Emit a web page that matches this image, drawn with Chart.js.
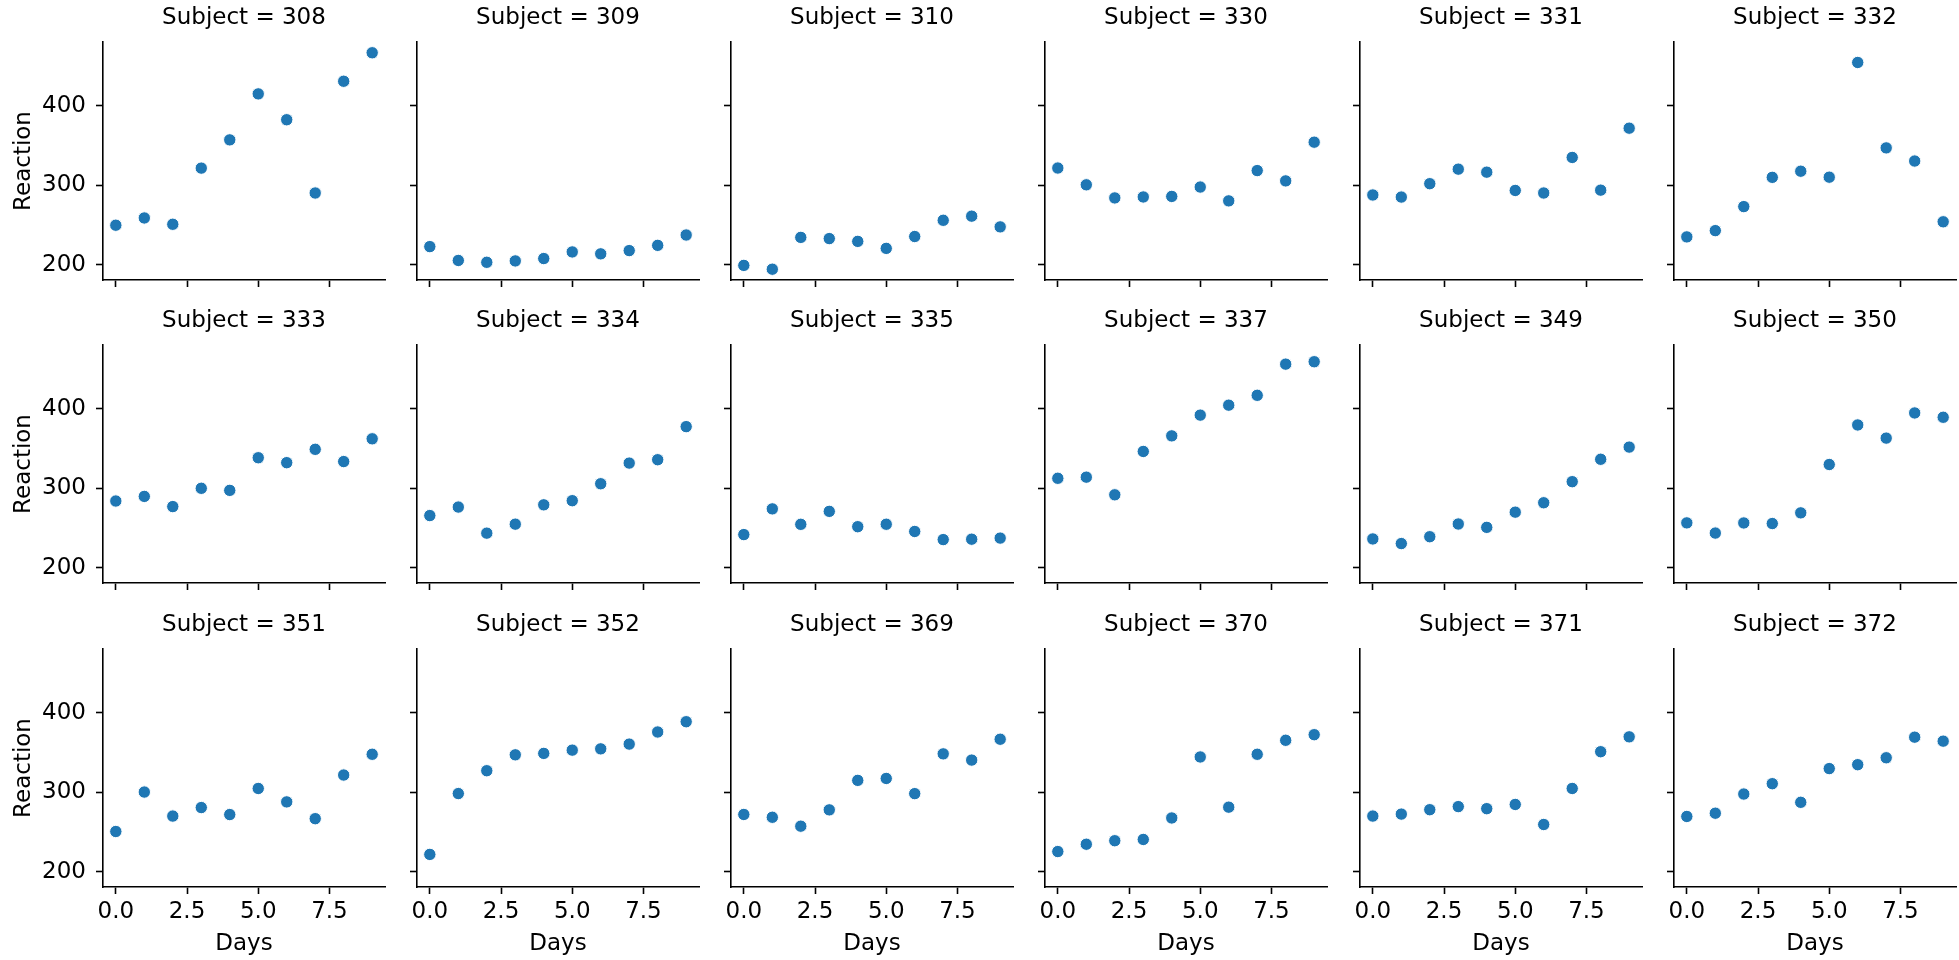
<!DOCTYPE html>
<html>
<head>
<meta charset="utf-8">
<script src="https://cdn.jsdelivr.net/npm/chart.js@4"></script>
<style>
  html, body { margin: 0; padding: 0; background: #fff; overflow: hidden; }
  #fig { position: relative; width: 1959px; height: 960px; }
  #fig canvas { position: absolute; }
</style>
</head>
<body>
<div id="fig"></div>
<script>
// sleepstudy: reaction time (ms) by days of sleep deprivation
const days = [0, 1, 2, 3, 4, 5, 6, 7, 8, 9];
const subjects = ['308', '309', '310', '330', '331', '332', '333', '334', '335',
                  '337', '349', '350', '351', '352', '369', '370', '371', '372'];

const s308 = [249.6, 258.7, 250.8, 321.4, 356.9, 414.7, 382.2, 290.1, 430.6, 466.4];
const s309 = [222.7, 205.3, 203.0, 204.7, 207.7, 216.0, 213.6, 217.7, 224.3, 237.3];
const s310 = [199.1, 194.3, 234.3, 232.8, 229.3, 220.5, 235.4, 255.8, 261.0, 247.5];
const s330 = [321.5, 300.4, 283.9, 285.1, 285.8, 297.6, 280.2, 318.3, 305.3, 354.0];
const s331 = [287.6, 285.0, 301.8, 320.1, 316.3, 293.3, 290.1, 334.8, 293.7, 371.6];
const s332 = [234.9, 242.8, 273.0, 309.8, 317.5, 310.0, 454.2, 346.8, 330.3, 253.9];
const s333 = [283.8, 289.6, 276.8, 299.8, 297.2, 338.2, 332.0, 348.8, 333.4, 362.0];
const s334 = [265.5, 276.2, 243.4, 254.7, 279.0, 284.2, 305.5, 331.5, 335.7, 377.3];
const s335 = [241.6, 273.9, 254.5, 270.8, 251.5, 254.6, 245.5, 235.3, 235.8, 237.2];
const s337 = [312.4, 313.8, 291.6, 346.1, 365.7, 391.8, 404.3, 416.7, 455.9, 458.9];
const s349 = [236.1, 230.3, 238.9, 254.9, 250.7, 269.8, 281.6, 308.1, 336.3, 351.6];
const s350 = [256.3, 243.5, 256.2, 255.5, 268.9, 329.7, 379.4, 362.9, 394.5, 389.1];
const s351 = [250.5, 300.1, 269.9, 280.6, 271.8, 304.6, 287.7, 266.6, 321.5, 347.6];
const s352 = [221.7, 298.2, 326.9, 346.9, 348.7, 352.8, 354.4, 360.4, 375.6, 388.5];
const s369 = [271.9, 268.4, 257.2, 277.7, 314.8, 317.2, 298.1, 348.1, 340.3, 366.5];
const s370 = [225.3, 234.5, 238.9, 240.5, 267.5, 344.2, 281.1, 347.6, 365.2, 372.2];
const s371 = [269.9, 272.4, 277.9, 281.8, 279.2, 284.5, 259.3, 304.6, 350.8, 369.5];
const s372 = [269.4, 273.5, 297.6, 310.6, 287.2, 329.6, 334.5, 343.2, 369.1, 364.1];

const series = [s308, s309, s310, s330, s331, s332, s333, s334, s335,
                s337, s349, s350, s351, s352, s369, s370, s371, s372];

const xTicks = [0, 2.5, 5, 7.5];
const yTicks = [200, 300, 400];
const xRange = [-0.45, 9.45];
const yRange = [180.73, 479.95];

// layout of the facet grid
const NCOL = 6;
const AX_W = 282, AX_H = 238;
const Y_W = 103, TITLE_H = 46, X_H = 72, PAD_R = 12;
const INK = '#000';
const FONT = 'DejaVu Sans';

function axLeft(c) { return Math.round(102.7 + c * 314.2); }
function axTop(r) { return Math.round(41.7 + r * 303.65); }

const fig = document.getElementById('fig');

subjects.forEach((subj, i) => {
    const col = i % NCOL;
    const row = Math.floor(i / NCOL);
    const firstCol = col === 0;
    const lastRow = row === 2;

    const canvas = document.createElement('canvas');
    const w = Y_W + AX_W + PAD_R;
    const h = TITLE_H + AX_H + X_H;
    canvas.width = w;
    canvas.height = h;
    canvas.style.left = (axLeft(col) - Y_W) + 'px';
    canvas.style.top = (axTop(row) - TITLE_H) + 'px';
    canvas.style.width = w + 'px';
    canvas.style.height = h + 'px';
    fig.appendChild(canvas);

    new Chart(canvas.getContext('2d'), {
        type: 'scatter',
        data: {
            datasets: [{
                data: days.map((d, k) => ({ x: d, y: series[i][k] })),
                backgroundColor: '#1f77b4',
                borderColor: '#ffffff',
                borderWidth: 1,
                pointRadius: 6.2,
                pointHoverRadius: 6.2,
                clip: false
            }]
        },
        options: {
            responsive: false,
            animation: false,
            devicePixelRatio: 1,
            events: [],
            layout: { padding: { left: 0, right: PAD_R, top: 0, bottom: 0 } },
            plugins: {
                legend: { display: false },
                tooltip: { enabled: false },
                title: {
                    display: true,
                    text: 'Subject = ' + subj,
                    fullSize: false,
                    color: INK,
                    font: { family: FONT, size: 23, weight: 'normal' },
                    padding: { top: 8.7, bottom: 9.7 }
                }
            },
            scales: {
                x: {
                    type: 'linear',
                    min: xRange[0],
                    max: xRange[1],
                    afterBuildTicks: s => { s.ticks = xTicks.map(v => ({ value: v })); },
                    afterFit: s => { s.height = X_H; },
                    border: { display: true, color: INK, width: 1.6 },
                    grid: { drawOnChartArea: false, drawTicks: true, tickLength: 7, tickColor: INK, tickWidth: 1.6 },
                    ticks: {
                        color: lastRow ? INK : 'rgba(0,0,0,0)',
                        font: { family: FONT, size: 23 },
                        padding: 4,
                        maxRotation: 0,
                        autoSkip: false,
                        callback: v => v.toFixed(1)
                    },
                    title: {
                        display: lastRow,
                        text: 'Days',
                        color: INK,
                        font: { family: FONT, size: 23 },
                        padding: { top: 0, bottom: 1.5 }
                    }
                },
                y: {
                    type: 'linear',
                    min: yRange[0],
                    max: yRange[1],
                    afterBuildTicks: s => { s.ticks = yTicks.map(v => ({ value: v })); },
                    afterFit: s => { s.width = Y_W; },
                    border: { display: true, color: INK, width: 1.6 },
                    grid: { drawOnChartArea: false, drawTicks: true, tickLength: 7, tickColor: INK, tickWidth: 1.6 },
                    ticks: {
                        color: firstCol ? INK : 'rgba(0,0,0,0)',
                        font: { family: FONT, size: 23 },
                        padding: 10,
                        autoSkip: false,
                        callback: v => String(v)
                    },
                    title: {
                        display: firstCol,
                        text: 'Reaction',
                        color: INK,
                        font: { family: FONT, size: 23 },
                        padding: { top: 10, bottom: 0 }
                    }
                }
            }
        }
    });
});
</script>
</body>
</html>
